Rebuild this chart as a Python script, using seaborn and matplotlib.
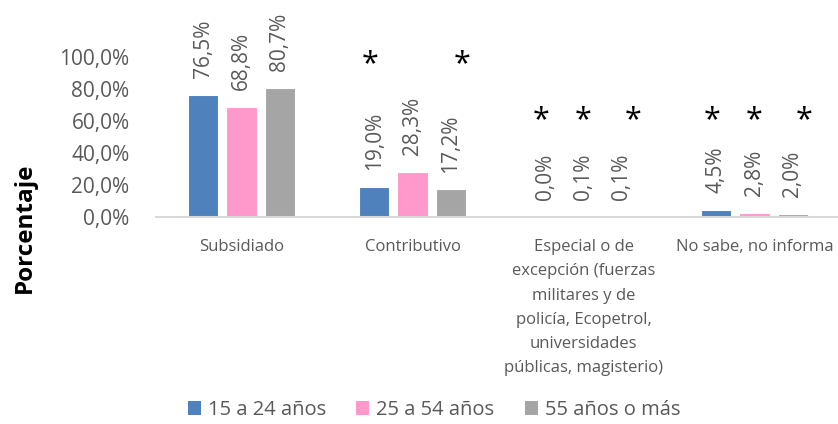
import numpy as np
import pandas as pd
import matplotlib
matplotlib.use("Agg")
import matplotlib.pyplot as plt
import seaborn as sns
from matplotlib.ticker import FuncFormatter
from matplotlib.patches import Patch

# --- DATA ---
CATEGORIES = [
    "Subsidiado",
    "Contributivo",
    "Especial o de\nexcepción (fuerzas\nmilitares y de\npolicía, Ecopetrol,\nuniversidades\npúblicas, magisterio)",
    "No sabe, no informa",
]
AGE_GROUPS = ["15 a 24 años", "25 a 54 años", "55 años o más"]
VAL_15_24 = [76.5, 19.0, 0.0, 4.5]
VAL_25_54 = [68.8, 28.3, 0.1, 2.8]
VAL_55_MAS = [80.7, 17.2, 0.1, 2.0]

# asterisks (low precision estimates) and the height where they sit
STAR_15_24 = [False, True, True, True]
STAR_25_54 = [False, False, True, True]
STAR_55_MAS = [False, True, True, True]
STAR_LEVEL = [None, 97.5, 62.5, 62.5]

PALETTE = {"15 a 24 años": "#4F81BD", "25 a 54 años": "#FF99CC", "55 años o más": "#A5A5A5"}
TXT_GREY = "#595959"

# --- build long table ---
rows = []
for grp, vals, stars in zip(AGE_GROUPS, [VAL_15_24, VAL_25_54, VAL_55_MAS],
                            [STAR_15_24, STAR_25_54, STAR_55_MAS]):
    for cat, v, s in zip(CATEGORIES, vals, stars):
        rows.append({"Régimen": cat, "Edad": grp, "Porcentaje": v, "star": s})
df = pd.DataFrame(rows)

sns.set_style("white")
plt.rcParams["font.family"] = ["Open Sans", "DejaVu Sans"]

fig = plt.figure(figsize=(8.38, 4.24), dpi=100)
ax = fig.add_axes([156 / 838, 207 / 424, 684 / 838, 160 / 424])

sns.barplot(data=df, x="Régimen", y="Porcentaje", hue="Edad", hue_order=AGE_GROUPS,
            palette=PALETTE, saturation=1, width=0.667, gap=0.21, edgecolor="white",
            linewidth=0.8, legend=False, ax=ax)

ax.set_ylim(0, 100)
ax.set_xlim(-0.5, len(CATEGORIES) - 0.5)
ax.set_yticks(np.arange(0, 101, 20))
ax.yaxis.set_major_formatter(FuncFormatter(lambda v, _: f"{v:.1f}%".replace(".", ",")))
ax.tick_params(axis="y", length=0, pad=19, labelsize=15, labelcolor=TXT_GREY)
ax.tick_params(axis="x", length=0, pad=16, labelsize=12, labelcolor=TXT_GREY)
for lbl in ax.get_xticklabels():
    lbl.set_multialignment("center")
    lbl.set_linespacing(1.68)
ax.set_xlabel("")
ax.set_ylabel("")
fig.text(25 / 838, 1 - 228 / 424, "Porcentaje", rotation=90, ha="center", va="center",
         fontsize=17.5, fontweight="bold", color="black")

for side in ["left", "right", "top"]:
    ax.spines[side].set_visible(False)
ax.spines["bottom"].set_color("#D9D9D9")
ax.spines["bottom"].set_linewidth(1.5)

# data labels and asterisks
star_dx = {"15 a 24 años": -3, "25 a 54 años": 0, "55 años o más": 8}
for container, grp in zip(ax.containers, AGE_GROUPS):
    sub = df[df["Edad"] == grp].reset_index(drop=True)
    for i, bar in enumerate(container):
        xc = bar.get_x() + bar.get_width() / 2
        h = bar.get_height()
        ax.annotate(f"{h:.1f}%".replace(".", ","), (xc, h), xytext=(0, 12),
                    textcoords="offset points", rotation=90, ha="center", va="bottom",
                    fontsize=15, color=TXT_GREY, annotation_clip=False)
        if sub.loc[i, "star"]:
            ax.annotate("*", (xc, STAR_LEVEL[i]), xytext=(star_dx[grp], 0),
                        textcoords="offset points", ha="center", va="center_baseline",
                        fontsize=22, color="black", annotation_clip=False)

handles = [Patch(facecolor=PALETTE[g], edgecolor="none", label=g) for g in AGE_GROUPS]
fig.legend(handles=handles, loc="lower center", bbox_to_anchor=(434 / 838, 0), ncol=3,
           frameon=False, fontsize=14.5, handlelength=0.65, handleheight=0.65,
           handletextpad=0.35, columnspacing=1.5, labelcolor=TXT_GREY,
           borderpad=0.1, borderaxespad=0.1)

fig.savefig("out.png", dpi=100)
